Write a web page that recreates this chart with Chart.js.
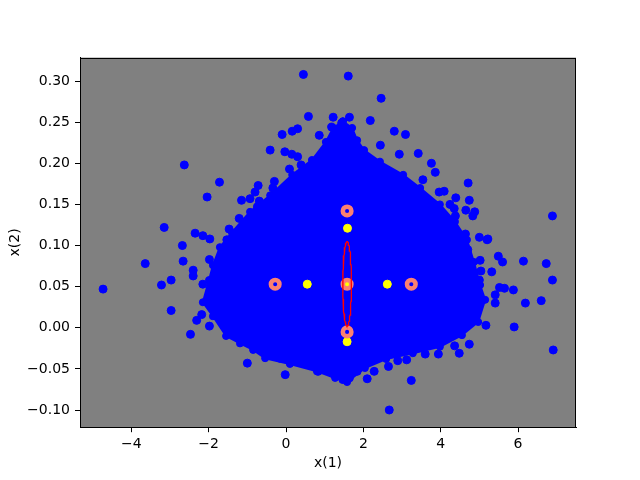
<!DOCTYPE html>
<html>
<head>
<meta charset="utf-8">
<script src="https://cdn.jsdelivr.net/npm/chart.js@4.4.1/dist/chart.umd.min.js"></script>
<style>
  html, body { margin: 0; padding: 0; background: #fff; }
  #wrap { width: 640px; height: 480px; }
</style>
</head>
<body>
<div id="wrap"><canvas id="scatter" width="640" height="480"></canvas></div>
<script>
'use strict';

// Tick labels
const xTicks = [-4, -2, 0, 2, 4, 6];
const yTicks = [-0.10, -0.05, 0.00, 0.05, 0.10, 0.15, 0.20, 0.25, 0.30];

// Dense core of the cloud, traced round its edge (clockwise from the top)
const coreX = [1.47, 1.71, 1.84, 2.02, 2.43, 3.03, 3.47, 3.98, 4.37, 4.68, 4.86, 5.02, 5.15, 4.97, 4.55,
  3.98, 3.28, 2.59, 2.04, 1.58, 1.27, 0.80, 0.10, -0.54, -0.85, -1.19, -1.55, -1.89, -2.15, -1.99,
  -1.89, -1.71, -1.40, -0.93, -0.41, 0.16, 0.67, 1.03, 1.22];
const coreY = [0.251, 0.243, 0.228, 0.216, 0.202, 0.186, 0.170, 0.150, 0.129, 0.107, 0.080, 0.052, 0.034, 0.007, -0.009,
  -0.023, -0.031, -0.038, -0.049, -0.066, -0.061, -0.053, -0.044, -0.037, -0.027, -0.019, -0.010, 0.014, 0.031, 0.058,
  0.076, 0.098, 0.116, 0.141, 0.161, 0.186, 0.204, 0.226, 0.243];

// Samples lying outside the core
const strayX = [
  0.45, 0.58, 0.86, -0.10, 0.16, 0.30, -0.41, -0.03, 0.15, 0.30, 0.09, 0.39, -2.63, -1.72, -2.04, -0.72,
  -0.30, -0.34, -1.15, -0.93, -0.80, -0.69, -0.74, -3.15, -2.35, -2.15, -1.97, -2.68, -1.21, -1.47, -1.53,
  1.61, 2.46, 1.22, 1.64, 2.18, 2.80, 3.09, 2.44, 2.93, 3.42, 3.76, 3.86, 4.71, 3.54, 3.96, 4.09,
  4.39, 4.74, 4.24, 4.35, 4.38, 4.65, 4.88, 4.83, 6.89, 5.00, 5.22, 4.64,
  -4.73, -3.64, -2.66, -2.40, -2.40, -3.22, -2.97, -2.97, -2.47, -2.31, -2.18, -1.98, -2.15, -1.98,
  -1.00, -0.02, -0.52, -0.16, 0.13, 0.83, -1.15,
  5.49, 5.60, 6.14, 6.73, 6.89, 5.02, 5.04, 5.32, 5.00, 5.52, 5.65, 5.88, 6.60, 6.19, 5.41, 5.41,
  5.90, 6.91, 5.17, 4.74, 4.36, 4.48, 3.60, 3.94, 3.24, 2.67, 2.10, 1.47, 1.64, 3.12, 2.89, 2.65,
  1.25, 1.84, 2.28, 5.20, 4.70, 4.74, 1.18, 1.44
];
const strayY = [
  0.308, 0.257, 0.234, 0.235, 0.239, 0.242, 0.216, 0.214, 0.211, 0.208, 0.193, 0.198, 0.198, 0.177, 0.159, 0.173,
  0.178, 0.170, 0.155, 0.157, 0.165, 0.154, 0.147, 0.122, 0.115, 0.112, 0.108, 0.100, 0.133, 0.120, 0.107,
  0.306, 0.279, 0.256, 0.256, 0.252, 0.239, 0.235, 0.222, 0.211, 0.212, 0.200, 0.189, 0.176, 0.180, 0.165, 0.166,
  0.158, 0.155, 0.150, 0.145, 0.136, 0.143, 0.141, 0.136, 0.136, 0.110, 0.108, 0.114,
  0.047, 0.078, 0.081, 0.070, 0.063, 0.052, 0.058, 0.021, -0.008, 0.009, 0.016, 0.002, 0.053, 0.083,
  -0.043, -0.057, -0.032, -0.037, -0.042, -0.053, -0.017,
  0.087, 0.080, 0.081, 0.078, 0.058, 0.082, 0.069, 0.068, 0.058, 0.049, 0.048, 0.046, 0.033, 0.030, 0.030, 0.040,
  0.001, -0.027, 0.003, -0.020, -0.022, -0.031, -0.032, -0.032, -0.064, -0.100, -0.062, -0.063, -0.061, -0.039, -0.040, -0.047,
  -0.057, -0.053, -0.053, 0.107, 0.095, 0.082, 0.244, 0.249
];

// Yellow points
const meanX = [1.59, 0.55, 1.58, 2.62, 1.58];
const meanY = [0.121, 0.053, 0.053, 0.053, -0.017];

// Salmon rings
const ringX = [1.58, -0.28, 1.58, 3.24, 1.58];
const ringY = [0.142, 0.053, 0.053, 0.053, -0.005];

// Red ellipse: centre and semi-axes
const ellipseCentre = [1.58, 0.0534];
const ellipseRadii = [0.112, 0.0513];

// Axis limits
const xMin = -5.327, xMax = 7.499;
const yMin = -0.1209, yMax = 0.3285;

const blue = '#0000ff',
  yellow = '#ffff00',
  salmon = '#fa8072',
  red = '#ff0000',
  axesGrey = '#808080';

function zip(xs, ys) {
  return xs.map(function (x, i) { return { x: x, y: ys[i] }; });
}

const corePts = zip(coreX, coreY);
corePts.push(corePts[0]);

const ellipsePts = [];
for (let i = 0; i <= 120; i++) {
  const t = (i / 120) * 2 * Math.PI;
  ellipsePts.push({
    x: ellipseCentre[0] + ellipseRadii[0] * Math.cos(t),
    y: ellipseCentre[1] + ellipseRadii[1] * Math.sin(t)
  });
}

const minus = function (s) { return String(s).replace('-', '\u2212'); };

// grey axes background and the full frame
const axesBox = {
  id: 'axesBox',
  beforeDraw(chart) {
    const a = chart.chartArea, c = chart.ctx;
    c.save();
    c.fillStyle = axesGrey;
    c.fillRect(a.left, a.top, a.right - a.left, a.bottom - a.top);
    c.restore();
  },
  afterDraw(chart) {
    const a = chart.chartArea, c = chart.ctx;
    c.save();
    c.strokeStyle = '#000';
    c.lineWidth = 1;
    c.strokeRect(Math.round(a.left) + 0.5, Math.round(a.top) + 0.5,
      Math.round(a.right - a.left) - 1, Math.round(a.bottom - a.top) - 1);
    c.restore();
  }
};

const font = { family: 'DejaVu Sans', size: 14 };

new Chart(document.getElementById('scatter'), {
  type: 'scatter',
  data: {
    datasets: [
      {
        data: ellipsePts,
        showLine: true,
        borderColor: red,
        borderWidth: 1.3,
        pointRadius: 0,
        fill: false,
        order: 0
      },
      {
        data: zip(ringX, ringY),
        pointRadius: 4.3,
        pointBorderWidth: 4.5,
        pointBackgroundColor: 'rgba(0,0,0,0)',
        pointBorderColor: salmon,
        order: 1
      },
      {
        data: zip(meanX, meanY),
        pointRadius: 4,
        pointBorderWidth: 1,
        pointBackgroundColor: yellow,
        pointBorderColor: yellow,
        order: 2
      },
      {
        data: zip(strayX, strayY),
        pointRadius: 4,
        pointBorderWidth: 1,
        pointBackgroundColor: blue,
        pointBorderColor: blue,
        order: 3
      },
      {
        data: corePts,
        showLine: true,
        fill: 'shape',
        backgroundColor: blue,
        borderColor: blue,
        borderWidth: 2,
        pointRadius: 3.5,
        pointBorderWidth: 1,
        pointBackgroundColor: blue,
        pointBorderColor: blue,
        order: 4
      }
    ]
  },
  options: {
    responsive: false,
    devicePixelRatio: 1,
    animation: false,
    events: [],
    layout: {
      padding: { left: 0, right: 64, top: 57.6, bottom: 0 }
    },
    plugins: {
      legend: { display: false },
      tooltip: { enabled: false }
    },
    scales: {
      x: {
        type: 'linear',
        min: xMin,
        max: xMax,
        afterFit: function (scale) { scale.height = 52.8; },
        afterBuildTicks: function (scale) {
          scale.ticks = xTicks.map(function (v) { return { value: v }; });
        },
        grid: {
          drawOnChartArea: false,
          drawTicks: true,
          tickLength: 5,
          tickColor: '#000',
          tickWidth: 1
        },
        border: { display: true, color: '#000', width: 1 },
        ticks: {
          color: '#000',
          font: font,
          padding: 4,
          maxRotation: 0,
          callback: function (v) { return minus(v); }
        },
        title: {
          display: true,
          text: 'x(1)',
          color: '#000',
          font: font,
          padding: { top: 0, bottom: 8.6 }
        }
      },
      y: {
        type: 'linear',
        min: yMin,
        max: yMax,
        afterFit: function (scale) { scale.width = 80; },
        afterBuildTicks: function (scale) {
          scale.ticks = yTicks.map(function (v) { return { value: v }; });
        },
        grid: {
          drawOnChartArea: false,
          drawTicks: true,
          tickLength: 5,
          tickColor: '#000',
          tickWidth: 1
        },
        border: { display: true, color: '#000', width: 1 },
        ticks: {
          color: '#000',
          font: font,
          padding: 5,
          callback: function (v) { return minus(Number(v).toFixed(2)); }
        },
        title: {
          display: true,
          text: 'x(2)',
          color: '#000',
          font: font,
          padding: { top: 6.6, bottom: 0 }
        }
      }
    }
  },
  plugins: [axesBox]
});
</script>
</body>
</html>
